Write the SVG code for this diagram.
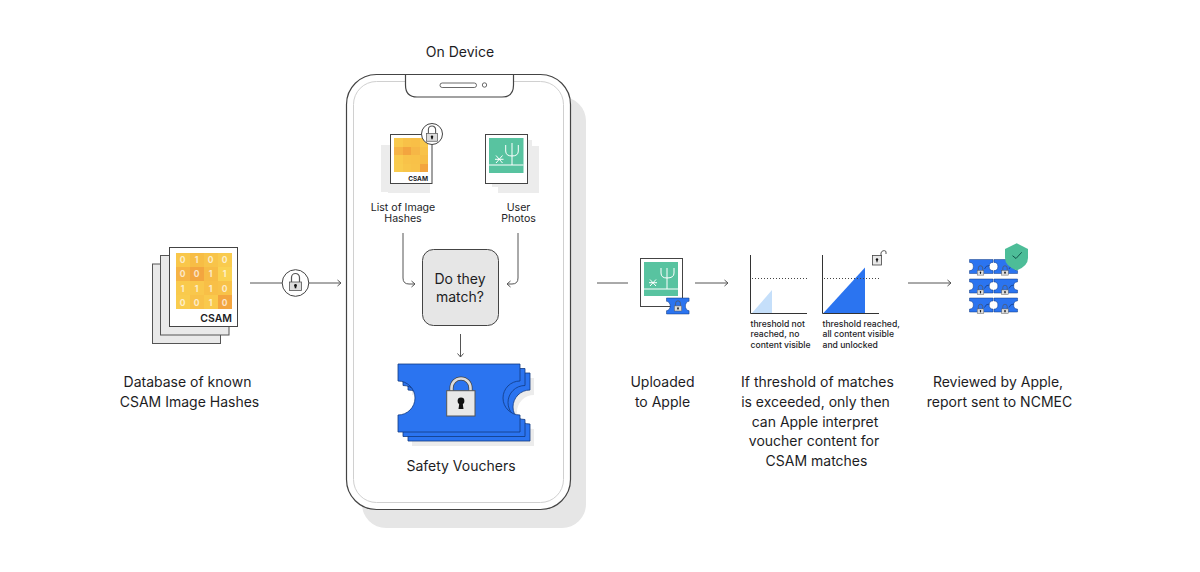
<svg xmlns="http://www.w3.org/2000/svg" xmlns:xlink="http://www.w3.org/1999/xlink" width="1200" height="572" viewBox="0 0 1200 572">
<style>
text{font-family:"Inter","Liberation Sans",sans-serif;fill:#1d1d1f}
.l{font-size:14px;text-anchor:middle}
.s{font-size:10.600px;text-anchor:middle}
.t{font-size:8.600px;font-weight:500}
.b{font-size:8.500px;font-weight:700;fill:#fff;text-anchor:middle;opacity:.7}
.line{fill:none;stroke:#555;stroke-width:1}
.page{fill:#e9e9e9;stroke:#555;stroke-width:1}
.back{fill:#ececec}
.ph{fill:#fff;stroke:#444;stroke-width:1}
.tk{fill:#2b74f0;stroke:#123a80;stroke-width:.8}
.tkm{fill:#2b74f0;stroke:#123a80;stroke-width:2.500}
.cactus{fill:none;stroke:#fff;stroke-width:1}
.g{fill:#58c3a0}
.dot{fill:none;stroke:#444;stroke-dasharray:1 2}
.axis{fill:none;stroke:#333}
.heat{shape-rendering:crispEdges}
</style>
<defs>
<marker id="a" markerWidth="7" markerHeight="8" refX="5.500" refY="4" orient="auto" markerUnits="userSpaceOnUse"><path d="M2 1L5.500 4L2 7" fill="none" stroke="#555"/></marker>
<path id="ticket" d="M0 0H122V17A17 17 0 0 0 122 51V68H0V51A17 17 0 0 0 0 17Z"/>
<path id="ticketm" d="M0 0H122V14A20 20 0 0 0 122 54V68H0V54A20 20 0 0 0 0 14Z"/>
<g id="lock"><path d="M-4 -1V-5.500A4 4 0 0 1 4 -5.500V-1" fill="none" stroke="#555" stroke-width="1.200"/><rect x="-6" y="-1" width="12" height="8.500" fill="#dcdcdc" stroke="#555" stroke-width=".8"/><circle cx="0" cy="2.500" r="1.400" fill="#111"/><rect x="-.8" y="2.500" width="1.600" height="2.800" fill="#111"/></g>
<g id="mini"><use xlink:href="#ticketm" class="tkm" transform="scale(.193 .206)"/><path d="M15 9.500A5 5 0 0 1 20 6" fill="none" stroke="#123a80" stroke-width=".7"/><g transform="translate(11 11.500) scale(.55)"><use xlink:href="#lock"/></g></g>
</defs>

<g id="database">
<rect class="page" x="152.500" y="264" width="68" height="79.500"/>
<rect class="page" x="160.500" y="255.500" width="68.500" height="79.500"/>
<rect class="ph" x="169.500" y="247.500" width="68" height="79"/>
<g class="heat">
<rect x="175.500" y="253" width="14" height="14" fill="#f9c74a"/><rect x="189.500" y="253" width="14" height="14" fill="#f7bd45"/><rect x="203.500" y="253" width="14" height="14" fill="#f8c44a"/><rect x="217.500" y="253" width="14" height="14" fill="#f9cb4e"/>
<rect x="175.500" y="267" width="14" height="14" fill="#f6b445"/><rect x="189.500" y="267" width="14" height="14" fill="#f3a53f"/><rect x="203.500" y="267" width="14" height="14" fill="#f7bc46"/><rect x="217.500" y="267" width="14" height="14" fill="#fad252"/>
<rect x="175.500" y="281" width="14" height="14" fill="#f9ca4c"/><rect x="189.500" y="281" width="14" height="14" fill="#f9c74b"/><rect x="203.500" y="281" width="14" height="14" fill="#f8bf47"/><rect x="217.500" y="281" width="14" height="14" fill="#f8c249"/>
<rect x="175.500" y="295" width="14" height="14" fill="#f9cc4e"/><rect x="189.500" y="295" width="14" height="14" fill="#f8c148"/><rect x="203.500" y="295" width="14" height="14" fill="#f9c94c"/><rect x="217.500" y="295" width="14" height="14" fill="#f3a53f"/>
</g>
<text class="b" x="182.500" y="263">0</text><text class="b" x="196.500" y="263">1</text><text class="b" x="210.500" y="263">0</text><text class="b" x="224.500" y="263">0</text>
<text class="b" x="182.500" y="277">0</text><text class="b" x="196.500" y="277">0</text><text class="b" x="210.500" y="277">1</text><text class="b" x="224.500" y="277">1</text>
<text class="b" x="182.500" y="292">1</text><text class="b" x="196.500" y="292">1</text><text class="b" x="210.500" y="292">1</text><text class="b" x="224.500" y="292">0</text>
<text class="b" x="182.500" y="306">0</text><text class="b" x="196.500" y="306">0</text><text class="b" x="210.500" y="306">1</text><text class="b" x="224.500" y="306">0</text>
<text x="232" y="322" font-size="10.500" font-weight="600" text-anchor="end">CSAM</text>
<text class="l" x="187.500" y="386.500">Database of known</text>
<text class="l" x="189.500" y="406.500">CSAM Image Hashes</text>
</g>

<g id="lock-transit"><circle cx="295.500" cy="283" r="13.300" fill="#fff" stroke="#444"/><g transform="translate(295.500 283)"><use xlink:href="#lock"/></g></g>

<g id="phone">
<rect x="362" y="97" width="224" height="431" rx="24" fill="#e6e6e6"/>
<rect x="346.500" y="74.500" width="224" height="435" rx="30" fill="#fff" stroke="#444" stroke-width="1.200"/>
<rect x="353.500" y="81.500" width="210" height="421" rx="23" fill="#fff" stroke="#d0d0d0"/>
<path d="M405.500 75V85Q405.500 97 417 97H502Q513.500 97 513.500 85V75" fill="#fff" stroke="#444" stroke-width="1.200"/>
<rect x="440" y="83" width="36.500" height="4.500" rx="2.200" fill="#fff" stroke="#444" stroke-width=".8"/>
<circle cx="484.500" cy="85" r="2.200" fill="#fff" stroke="#444" stroke-width=".8"/>
<text class="l" x="460" y="57">On Device</text>
</g>

<g id="hash-list">
<rect class="back" x="381" y="145" width="44" height="47"/><rect class="back" x="388" y="150" width="42" height="43"/>
<rect class="ph" x="390.500" y="134.500" width="41.500" height="49"/>
<g class="heat">
<rect x="394" y="138" width="9" height="9" fill="#f9c94c"/><rect x="403" y="138" width="8" height="9" fill="#f8c148"/><rect x="411" y="138" width="9" height="9" fill="#f8bf47"/><rect x="420" y="138" width="8" height="9" fill="#f9c84b"/>
<rect x="394" y="147" width="9" height="8" fill="#f6b445"/><rect x="403" y="147" width="8" height="8" fill="#f3a53f"/><rect x="411" y="147" width="9" height="8" fill="#f6b746"/><rect x="420" y="147" width="8" height="8" fill="#f8c249"/>
<rect x="394" y="155" width="9" height="9" fill="#f9ca4c"/><rect x="403" y="155" width="8" height="9" fill="#f8c249"/><rect x="411" y="155" width="9" height="9" fill="#f8c148"/><rect x="420" y="155" width="8" height="9" fill="#f7bd46"/>
<rect x="394" y="164" width="9" height="8" fill="#f9cb4e"/><rect x="403" y="164" width="8" height="8" fill="#f8c54a"/><rect x="411" y="164" width="9" height="8" fill="#f8c249"/><rect x="420" y="164" width="8" height="8" fill="#f3a53f"/>
</g>
<text x="428" y="181" font-size="6.500" font-weight="700" text-anchor="end">CSAM</text>
<circle cx="432" cy="134" r="10.500" fill="#fff" stroke="#444"/><g transform="translate(432 134.500) scale(.9)"><use xlink:href="#lock"/></g>
<text class="s" x="403" y="211">List of Image</text>
<text class="s" x="403" y="222">Hashes</text>
</g>

<g id="user-photos">
<rect class="back" x="492" y="140" width="40" height="47"/><rect class="back" x="498" y="146" width="41" height="47"/>
<rect class="ph" x="485.500" y="134.500" width="42" height="49"/>
<rect class="g" x="489" y="138" width="34.500" height="35"/>
<path class="cactus" d="M489 165H523.500M512 165V143M505.700 145V151Q505.700 156 512 156Q518.300 156 518.300 151V145M496 155.500L502.500 163M502.500 155.500L496 163M495 159.300H503.500"/>
<text class="s" x="518.500" y="211">User</text>
<text class="s" x="518.500" y="222">Photos</text>
</g>

<g id="match"><rect x="422.500" y="249.500" width="76" height="76" rx="11" fill="#e6e6e6" stroke="#444"/>
<text class="l" x="460" y="284">Do they</text><text class="l" x="460" y="302">match?</text></g>

<g id="vouchers">
<use xlink:href="#ticket" class="back" x="412" y="378"/>
<use xlink:href="#ticket" class="tk" x="408" y="373"/>
<use xlink:href="#ticket" class="tk" x="403" y="368.500"/>
<use xlink:href="#ticket" class="tk" x="398" y="364"/>
<path d="M451.500 391V388A9.500 9.500 0 0 1 470.500 388V391" fill="none" stroke="#444" stroke-width="4"/>
<path d="M451.500 391V388A9.500 9.500 0 0 1 470.500 388V391" fill="none" stroke="#dcdcdc" stroke-width="2.600"/>
<rect x="446.700" y="390.700" width="28.300" height="25.300" fill="#e8e8e8" stroke="#555"/>
<circle cx="461" cy="401" r="3.400" fill="#111"/><path d="M459.500 402H462.500L463.500 409H458.500Z" fill="#111"/>
<text class="l" x="461" y="471">Safety Vouchers</text>
</g>

<g id="uploaded">
<rect class="ph" x="640.500" y="258.500" width="42" height="48"/>
<rect class="g" x="644" y="262" width="34" height="34"/>
<path class="cactus" d="M644 289H678M667 289V268M661 268V273Q661 278 667 278Q674 278 674 273V268M650 279.500L656 286M656 279.500L650 286M649 282.700H657"/>
<use xlink:href="#ticketm" class="tkm" transform="translate(666.500 298) scale(.185 .235)"/>
<g transform="translate(678 306.500) scale(.6)"><use xlink:href="#lock"/></g>
<text class="l" x="662.500" y="386.500">Uploaded</text><text class="l" x="662.500" y="406.500">to Apple</text>
</g>

<g id="chart-a">
<path d="M752 313L772 290V313Z" fill="#c5dffa"/>
<path class="axis" d="M750.500 255V313.500H807"/>
<path class="dot" d="M752 278.500H809"/>
<text class="t" x="750.500" y="327">threshold not</text><text class="t" x="750.500" y="337">reached, no</text><text class="t" x="750.500" y="347.500">content visible</text>
</g>
<g id="chart-b">
<path d="M823 313.500L865 267.500V313.500Z" fill="#2b74f0"/>
<path class="axis" d="M822.500 255V313.500H879"/>
<path class="dot" d="M824 278.500H881"/>
<rect x="872.500" y="255.500" width="9" height="9.500" fill="#e8e8e8" stroke="#444" stroke-width=".8"/><circle cx="877" cy="259.500" r="1.200" fill="#111"/><rect x="876.500" y="259.500" width="1" height="2.800" fill="#111"/>
<path d="M881 256V253A3 3 0 0 1 886 251.500V254" fill="none" stroke="#444" stroke-width=".9"/>
<text class="t" x="822.500" y="327">threshold reached,</text><text class="t" x="822.500" y="337">all content visible</text><text class="t" x="822.500" y="347.500">and unlocked</text>
</g>
<g id="threshold-label">
<text class="l" x="817.500" y="386.500">If threshold of matches</text>
<text class="l" x="815.500" y="406.500">is exceeded, only then</text>
<text class="l" x="815" y="426.500">can Apple interpret</text>
<text class="l" x="814" y="445.500">voucher content for</text>
<text class="l" x="816.500" y="465.500">CSAM matches</text>
</g>

<g id="reviewed">
<g transform="translate(969.500 259.500)"><use xlink:href="#mini"/></g><g transform="translate(994 259.500)"><use xlink:href="#mini"/></g>
<g transform="translate(969.500 279)"><use xlink:href="#mini"/></g><g transform="translate(994 279)"><use xlink:href="#mini"/></g>
<g transform="translate(969.500 298)"><use xlink:href="#mini"/></g><g transform="translate(994 298)"><use xlink:href="#mini"/></g>
<path d="M1016.700 243.300L1028 249V258Q1028 266 1016.700 270.500Q1005 266 1005 258V249Z" fill="#4dbd98"/>
<path d="M1012.500 255.700L1016 258.500L1021.700 252.300" fill="none" stroke="#13544a" stroke-width="1"/>
<text class="l" x="998" y="386.500">Reviewed by Apple,</text>
<text class="l" x="999.500" y="406.500">report sent to NCMEC</text>
</g>

<g id="connectors">
<path class="line" d="M250 283H282"/>
<path class="line" d="M309 283H341" marker-end="url(#a)"/>
<path class="line" d="M403 233V278Q403 284 409 284H415" marker-end="url(#a)"/>
<path class="line" d="M518 233V278Q518 284 512 284H507" marker-end="url(#a)"/>
<path class="line" d="M460.500 334V357" marker-end="url(#a)"/>
<path class="line" d="M597 283H628"/>
<path class="line" d="M695 283H728" marker-end="url(#a)"/>
<path class="line" d="M908 283H951" marker-end="url(#a)"/>
</g>
</svg>
